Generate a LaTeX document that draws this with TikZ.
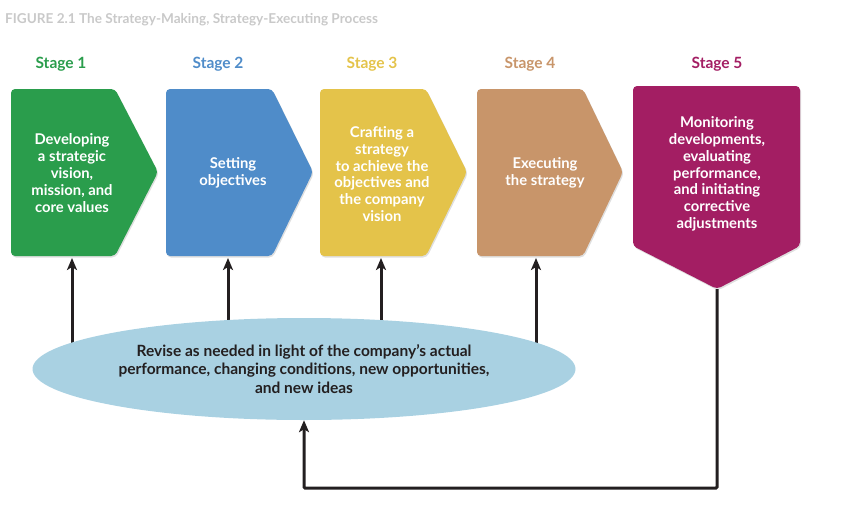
\documentclass[tikz,border=0pt]{standalone}
\usepackage{fontspec}
\setmainfont{Lato}
\usetikzlibrary{shapes.geometric,arrows.meta,shadows,backgrounds}
\definecolor{cgreen}{HTML}{2A9D4C}
\definecolor{cblue}{HTML}{4F8CC9}
\definecolor{cyellow}{HTML}{E4C34A}
\definecolor{ctan}{HTML}{C8956A}
\definecolor{cmag}{HTML}{A31E63}
\definecolor{cell}{HTML}{A9D1E2}
\definecolor{cdark}{HTML}{231F20}
\definecolor{ctitle}{HTML}{C9C9C9}
\tikzset{
  shp/.style={rounded corners=4pt, drop shadow={shadow xshift=1pt, shadow yshift=-1.5pt, opacity=0.25}},
  boxtext/.style={text=white, font=\fontsize{14.8}{16.8}\selectfont\bfseries, align=center, inner sep=0},
  stagelbl/.style={font=\fontsize{15.5}{17}\selectfont\bfseries, inner sep=0},
  link/.style={draw=cdark, line width=3pt, -{Stealth[length=12pt,width=10pt,inset=3pt]}},
}
\begin{document}
\begin{tikzpicture}[x=1pt,y=-1pt]
\useasboundingbox (0,0) rectangle (843,525);
\node[anchor=west, text=ctitle, font=\fontsize{13.6}{15}\selectfont\bfseries, inner sep=0] (title) at (5,20) {FIGURE 2.1 The Strategy-Making, Strategy-Executing Process};

% stage labels
\node[stagelbl, text=cgreen] (l1) at (61,64) {Stage 1};
\node[stagelbl, text=cblue] (l2) at (218,64) {Stage 2};
\node[stagelbl, text=cyellow] (l3) at (372,64) {Stage 3};
\node[stagelbl, text=ctan] (l4) at (530,64) {Stage 4};
\node[stagelbl, text=cmag] (l5) at (717,64) {Stage 5};

% shapes
\fill[shp, cgreen] (11,89) -- (115,89) -- (158,172) -- (115,256) -- (11,256) -- cycle;
\fill[shp, cblue] (166,89) -- (272,89) -- (313,172) -- (272,256) -- (166,256) -- cycle;
\fill[shp, cyellow] (320,89) -- (426,89) -- (467,172) -- (426,256) -- (320,256) -- cycle;
\fill[shp, ctan] (477,89) -- (583,89) -- (623,172) -- (583,256) -- (477,256) -- cycle;
\fill[shp, cmag] (633,86) -- (800,86) -- (800,246) -- (717,289) -- (633,246) -- cycle;

\node[boxtext] (t1) at (72,173) {Developing\\a strategic\\vision,\\mission, and\\core values};
\node[boxtext] (t2) at (233,173) {Setting\\objectives};
\node[boxtext] (t3) at (382,174) {Crafting a\\strategy\\to achieve the\\objectives and\\the company\\vision};
\node[boxtext] (t4) at (545,173) {Executing\\the strategy};
\node[boxtext] (t5) at (717,174) {Monitoring\\developments,\\evaluating\\performance,\\and initiating\\corrective\\adjustments};

\coordinate (b1) at (72,258);
\coordinate (b2) at (228,258);
\coordinate (b3) at (381,258);
\coordinate (b4) at (536,258);
\coordinate (p5) at (717,289);
\coordinate (corner) at (303,488);

% ellipse
\node[ellipse, fill=cell, minimum width=543pt, minimum height=102pt, inner sep=0,
      text=cdark, font=\fontsize{15.5}{18.5}\selectfont\bfseries, align=center] (e) at (304,369)
  {Revise as needed in light of the company’s actual\\performance, changing conditions, new opportunities,\\and new ideas};

\begin{scope}[on background layer]
\draw[link] (e.center -| b1) -- (b1);
\draw[link] (e.center -| b2) -- (b2);
\draw[link] (e.center -| b3) -- (b3);
\draw[link] (e.center -| b4) -- (b4);
\end{scope}
\draw[link, rounded corners=1pt] (p5) |- (e.south |- corner) -- (e.south);
\end{tikzpicture}
\end{document}
